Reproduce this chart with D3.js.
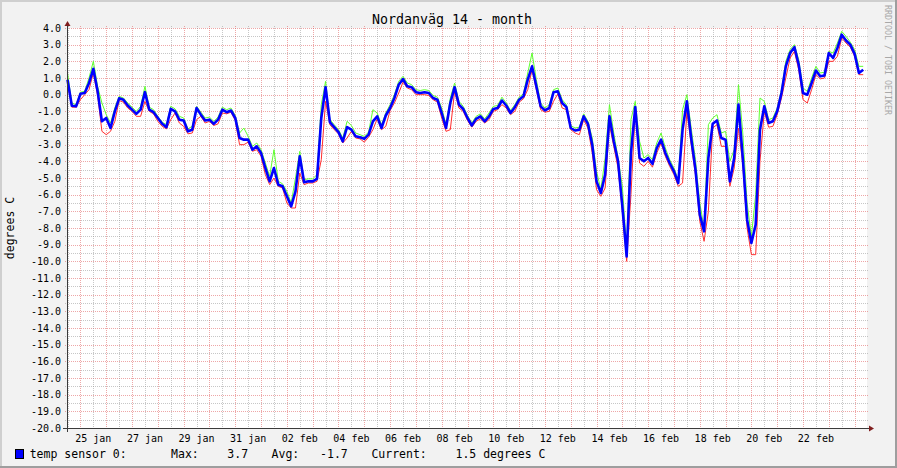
<!DOCTYPE html>
<html><head><meta charset="utf-8">
<script src="https://cdn.jsdelivr.net/npm/d3@7"></script>
<style>
body{margin:0;background:#f2f2f2}
svg{display:block}
text{font-family:"DejaVu Sans Mono",monospace}
</style>
</head><body>
<svg id="c" width="897" height="468"></svg>
<script>
// ---------------- data ----------------
const chartTitle = "Nordanväg 14 - month";
const yAxisLabel = "degrees C";
const watermark = "RRDTOOL / TOBI OETIKER";
const seriesName = "temp sensor 0:";
const statLabels = ["Max:", "Avg:", "Current:"];
const statValues = ["3.7", "-1.7", "1.5"];
const unitText = "degrees C";

const windowStart = Date.UTC(2015, 0, 24, 11, 31);
const windowDays = 31;
const firstSample = Date.UTC(2015, 0, 24, 12, 0);
const stepHours = 4;

const avgValues = [
0.9, -0.66, -0.7, 0.05, 0.1, 0.7, 1.55, 0.2, -1.6, -1.4,
-2.0, -1.0, -0.22, -0.3, -0.65, -0.9, -1.15, -0.9, 0.15, -0.9,
-1.05, -1.4, -1.75, -1.95, -0.85, -1.0, -1.5, -1.55, -2.2, -2.1,
-0.8, -1.2, -1.55, -1.5, -1.75, -1.5, -0.9, -1.05, -0.95, -1.4,
-2.6, -2.7, -2.7, -3.3, -3.1, -3.5, -4.4, -5.2, -4.4, -5.4,
-5.5, -6.1, -6.7, -5.8, -3.7, -5.25, -5.2, -5.2, -5.05, -1.4,
0.45, -1.65, -1.95, -2.25, -2.8, -1.95, -2.1, -2.5, -2.55, -2.65,
-2.4, -1.6, -1.3, -2.0, -1.25, -0.8, -0.2, 0.6, 0.94, 0.5,
0.45, 0.15, 0.1, 0.15, 0.1, -0.2, -0.3, -1.1, -2.0, -0.5,
0.45, -0.6, -0.86, -1.4, -1.85, -1.45, -1.3, -1.6, -1.3, -0.86,
-0.8, -0.35, -0.65, -1.1, -0.75, -0.3, -0.1, 0.9, 1.7, 0.5,
-0.7, -0.94, -0.8, 0.15, 0.2, -0.5, -0.75, -2.0, -2.15, -2.1,
-1.3, -1.75, -3.0, -5.2, -5.9, -4.8, -1.3, -2.8, -4.0, -6.7,
-9.7, -3.5, -0.75, -3.8, -4.0, -3.8, -4.15, -3.2, -2.7, -3.5,
-4.1, -4.6, -5.3, -2.1, -0.4, -2.6, -4.5, -7.2, -8.2, -3.8,
-1.75, -1.55, -2.6, -2.7, -5.2, -3.8, -0.6, -3.8, -7.5, -8.9,
-7.8, -2.1, -0.7, -1.7, -1.6, -1.0, 0.1, 1.7, 2.5, 2.85,
1.8, 0.1, 0.0, 0.7, 1.45, 1.1, 1.15, 2.5, 2.2, 2.8,
3.6, 3.25, 3.0, 2.45, 1.3, 1.5
];
const maxValues = [
1.3, -0.5, -0.6, 0.15, 0.2, 1.0, 2.0, 0.5, -0.5, -1.2,
-1.7, -0.8, -0.1, -0.2, -0.5, -0.75, -1.0, -0.7, 0.5, -0.75,
-0.9, -1.3, -1.65, -1.8, -0.7, -0.85, -1.3, -1.4, -2.05, -1.9,
-0.7, -1.05, -1.4, -1.35, -1.6, -1.35, -0.75, -0.9, -0.8, -1.25,
-2.3, -2.0, -2.5, -3.1, -2.9, -3.3, -4.1, -4.9, -3.3, -5.2,
-5.35, -5.8, -6.5, -5.0, -3.4, -5.1, -5.05, -5.05, -4.8, -0.6,
0.8, -1.5, -1.8, -2.1, -2.6, -1.6, -1.85, -2.3, -2.4, -2.5,
-2.25, -0.9, -1.1, -1.8, -1.1, -0.6, 0.0, 0.8, 1.1, 0.7,
0.6, 0.3, 0.25, 0.3, 0.25, -0.05, -0.15, -0.8, -1.8, -0.2,
0.7, -0.4, -0.7, -1.25, -1.7, -1.3, -1.15, -1.45, -1.1, -0.7,
-0.65, -0.15, -0.5, -0.95, -0.6, -0.15, 0.05, 1.3, 2.5, 0.9,
-0.5, -0.8, -0.6, 0.3, 0.4, -0.3, -0.6, -1.85, -2.0, -1.95,
-1.15, -1.6, -2.6, -4.6, -5.7, -3.8, -0.6, -2.3, -3.8, -5.5,
-9.3, -1.5, -0.4, -2.8, -3.8, -3.6, -3.9, -2.9, -2.3, -3.2,
-3.9, -4.4, -5.1, -0.9, 0.0, -2.0, -3.9, -6.5, -8.0, -1.8,
-1.4, -1.2, -2.3, -2.2, -4.0, -3.3, 0.6, -2.3, -6.5, -8.5,
-6.0, -0.2, -0.4, -1.5, -1.4, -0.8, 0.3, 2.0, 2.7, 3.0,
2.1, 0.4, 0.2, 1.0, 1.7, 1.3, 1.35, 2.6, 2.5, 3.1,
3.8, 3.5, 3.15, 2.7, 1.7, 1.7
];
const minValues = [
0.7, -0.75, -0.75, -0.3, 0.0, 0.3, 1.3, -0.05, -2.2, -2.4,
-2.2, -1.6, -0.35, -0.45, -0.8, -1.0, -1.3, -1.3, -0.4, -1.0,
-1.15, -1.6, -1.9, -2.05, -1.5, -1.1, -1.7, -1.9, -2.35, -2.3,
-1.5, -1.3, -1.7, -1.6, -1.85, -1.75, -1.1, -1.15, -1.05, -1.55,
-3.0, -3.0, -2.85, -3.4, -3.3, -3.7, -4.8, -5.4, -5.0, -5.5,
-5.6, -6.5, -6.8, -6.8, -4.7, -5.4, -5.3, -5.3, -5.2, -3.9,
-0.4, -1.8, -2.1, -2.35, -2.9, -2.6, -2.2, -2.6, -2.65, -2.85,
-2.55, -2.1, -1.45, -2.1, -1.9, -0.95, -0.5, 0.1, 0.75, 0.4,
0.3, 0.0, 0.0, 0.0, -0.05, -0.3, -0.45, -1.4, -2.2, -2.1,
0.2, -0.8, -1.0, -1.55, -1.95, -1.6, -1.45, -1.7, -1.5, -1.0,
-0.9, -0.6, -0.8, -1.2, -1.0, -0.45, -0.25, 0.3, 1.5, 0.3,
-0.9, -1.05, -1.0, -0.4, 0.05, -0.8, -0.9, -2.1, -2.3, -2.4,
-1.5, -2.0, -3.5, -5.7, -6.1, -5.6, -1.8, -3.1, -4.4, -7.0,
-10.0, -6.0, -1.0, -4.1, -4.3, -4.0, -4.35, -3.5, -2.9, -3.7,
-4.3, -4.8, -5.5, -5.3, -1.0, -3.0, -4.8, -7.6, -8.8, -7.0,
-2.0, -1.8, -3.1, -3.1, -5.5, -4.4, -2.0, -4.2, -8.0, -9.6,
-9.6, -4.0, -1.0, -1.95, -1.9, -1.2, -0.2, 1.0, 2.2, 2.6,
1.5, -0.3, -0.5, 0.3, 1.2, 0.95, 1.0, 2.0, 2.0, 2.3,
3.4, 3.1, 2.85, 2.3, 1.2, 1.2
];

const yTickValues = [4,3,2,1,0,-1,-2,-3,-4,-5,-6,-7,-8,-9,-10,-11,-12,-13,-14,-15,-16,-17,-18,-19,-20];
const xTickLabels = ["25 jan","27 jan","29 jan","31 jan","02 feb","04 feb","06 feb","08 feb","10 feb","12 feb","14 feb","16 feb","18 feb","20 feb","22 feb"];
const xTickDates = [
  [0,25],[0,27],[0,29],[0,31],[1,2],[1,4],[1,6],[1,8],[1,10],[1,12],[1,14],[1,16],[1,18],[1,20],[1,22]
];

// ---------------- chart ----------------
const W = 897, H = 468;
const plot = {left: 67, right: 867, top: 28, bottom: 428};
const svg = d3.select("#c");

const x = d3.scaleUtc()
  .domain([new Date(windowStart), new Date(windowStart + windowDays * 864e5)])
  .range([plot.left, plot.right]);
const y = d3.scaleLinear().domain([-20, 4]).range([plot.bottom, plot.top]);

// background & 3D border
svg.append("rect").attr("width", W).attr("height", H).attr("fill", "#f2f2f2");
svg.append("rect").attr("x", 0).attr("y", 0).attr("width", W).attr("height", 2).attr("fill", "#cfcfcf");
svg.append("rect").attr("x", 0).attr("y", 0).attr("width", 2).attr("height", H).attr("fill", "#cfcfcf");
svg.append("rect").attr("x", 0).attr("y", H - 2).attr("width", W).attr("height", 2).attr("fill", "#9e9e9e");
svg.append("rect").attr("x", W - 2).attr("y", 0).attr("width", 2).attr("height", H).attr("fill", "#9e9e9e");

// canvas
svg.append("rect").attr("x", plot.left).attr("y", plot.top)
  .attr("width", plot.right - plot.left).attr("height", plot.bottom - plot.top).attr("fill", "#ffffff");

const minorCol = "rgba(143,143,143,0.5)";
const majorCol = "rgba(222,79,79,0.5)";
const grid = svg.append("g");

// horizontal grid lines every 0.5
const hMinor = d3.range(-40, 9).map(i => i / 2);
hMinor.forEach(v => {
  const major = Number.isInteger(v);
  const yy = Math.round(y(v)) + 0.5;
  grid.append("line").attr("x1", plot.left - 2).attr("x2", plot.right + 2)
    .attr("y1", yy).attr("y2", yy)
    .attr("stroke", major ? majorCol : minorCol)
    .attr("stroke-dasharray", "1,1");
});

// vertical grid lines every 12 hours
const vTimes = d3.utcHour.every(12).range(x.domain()[0], x.domain()[1]);
vTimes.forEach(t => {
  const major = t.getUTCHours() === 0;
  const xx = Math.round(x(t)) + 0.5;
  grid.append("line").attr("x1", xx).attr("x2", xx)
    .attr("y1", plot.top - 2).attr("y2", plot.bottom + 2)
    .attr("stroke", major ? majorCol : minorCol)
    .attr("stroke-dasharray", "1,1");
});

// data
const times = avgValues.map((_, i) => new Date(firstSample + i * stepHours * 3600e3));
const mk = arr => arr.map((v, i) => ({t: times[i], v}));
const line = d3.line().x(d => x(d.t)).y(d => y(d.v));

svg.append("path").datum(mk(maxValues)).attr("d", line)
  .attr("fill", "none").attr("stroke", "#5fff2f").attr("stroke-width", 1);
svg.append("path").datum(mk(minValues)).attr("d", line)
  .attr("fill", "none").attr("stroke", "#ff2f2f").attr("stroke-width", 1);
svg.append("path").datum(mk(avgValues)).attr("d", line)
  .attr("fill", "none").attr("stroke", "#0000ff").attr("stroke-width", 2.6)
  .attr("stroke-linejoin", "round");

// axes lines
const axisCol = "#3a3a3a", arrowCol = "#801f1f";
svg.append("line").attr("x1", plot.left - 4).attr("x2", plot.right + 4)
  .attr("y1", plot.bottom + 0.5).attr("y2", plot.bottom + 0.5).attr("stroke", axisCol);
svg.append("line").attr("x1", plot.left + 0.5).attr("x2", plot.left + 0.5)
  .attr("y1", plot.bottom + 4).attr("y2", plot.top - 4).attr("stroke", axisCol);
svg.append("path")
  .attr("d", `M${plot.right + 2},${plot.bottom - 2.5}L${plot.right + 7},${plot.bottom + 0.5}L${plot.right + 2},${plot.bottom + 3.5}Z`)
  .attr("fill", arrowCol);
svg.append("path")
  .attr("d", `M${plot.left - 2.5},${plot.top - 2}L${plot.left + 0.5},${plot.top - 7}L${plot.left + 3.5},${plot.top - 2}Z`)
  .attr("fill", arrowCol);

// y tick labels
svg.append("g").selectAll("text").data(yTickValues).join("text")
  .attr("x", 61).attr("y", d => y(d) + 3.6)
  .attr("text-anchor", "end").attr("font-size", "10px").attr("fill", "#000")
  .text(d => d.toFixed(1));

// x tick labels (centred on midday)
svg.append("g").selectAll("text").data(xTickLabels).join("text")
  .attr("x", (d, i) => x(new Date(Date.UTC(2015, xTickDates[i][0], xTickDates[i][1], 12))))
  .attr("y", 441.5)
  .attr("text-anchor", "middle").attr("font-size", "10px").attr("fill", "#000")
  .text(d => d);

// title
svg.append("text").attr("x", 452).attr("y", 23.5).attr("text-anchor", "middle")
  .attr("font-size", "13.3px").attr("fill", "#000").text(chartTitle);

// y axis label
svg.append("text").attr("transform", `translate(13.5,${(plot.top + plot.bottom) / 2}) rotate(-90)`)
  .attr("text-anchor", "middle").attr("font-size", "11.5px").attr("fill", "#000").text(yAxisLabel);

// watermark
svg.append("text").attr("transform", "translate(885,5) rotate(90)")
  .attr("font-size", "8.3px").attr("fill", "#a8a8a8").text(watermark);

// legend
svg.append("rect").attr("x", 15.5).attr("y", 449.5).attr("width", 8).attr("height", 9)
  .attr("fill", "#0000ff").attr("stroke", "#000");
const lg = svg.append("g").attr("font-size", "11.5px").attr("fill", "#000");
const legendParts = [
  [seriesName, 29.7],
  [statLabels[0], 171.1], [statValues[0], 227.3],
  [statLabels[1], 271.6], [statValues[1], 320.1],
  [statLabels[2], 371.4], [statValues[2] + " " + unitText, 455.5]
];
legendParts.forEach(([t, px]) => lg.append("text").attr("x", px).attr("y", 457.5).text(t));
</script>
</body></html>
